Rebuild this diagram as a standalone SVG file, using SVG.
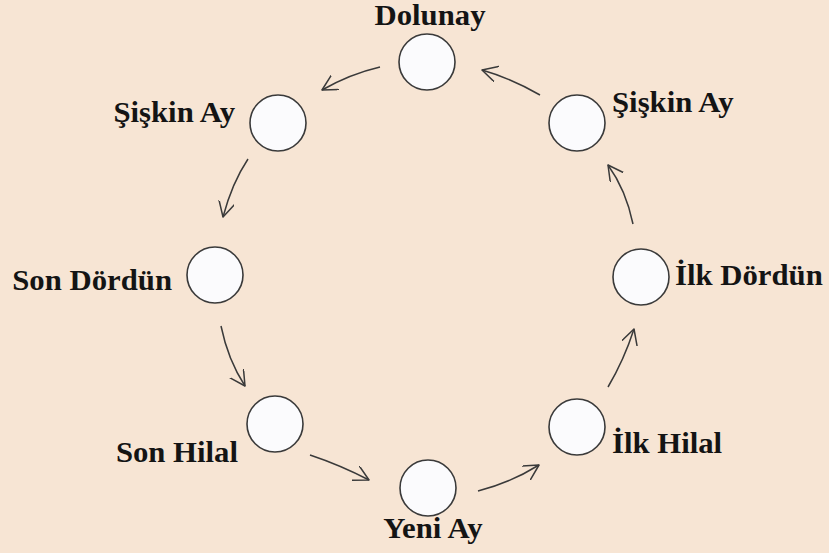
<svg xmlns="http://www.w3.org/2000/svg" width="829" height="553" viewBox="0 0 829 553">
<defs>
<marker id="arr" markerUnits="userSpaceOnUse" markerWidth="18" markerHeight="18" refX="15" refY="8" orient="auto">
<path d="M0,0 L15,8 L0,16" fill="none" stroke="#3a3a3a" stroke-width="1.5" stroke-linecap="round" stroke-linejoin="round"/>
</marker>
</defs>
<style>
.bg{fill:#F7E5D4}
.moon{fill:#FBFBFD;stroke:#3a3a3a;stroke-width:1.6}
.lbl{font-family:'Liberation Serif','Times New Roman',Tinos,Times,serif;font-weight:700;font-size:29px;fill:#141414}
.con{fill:none;stroke:#3a3a3a;stroke-width:1.5;marker-end:url(#arr)}
</style>
<rect class="bg" x="0" y="0" width="829" height="553"/>
<g id="dolunay">
<circle class="moon" cx="427" cy="62" r="28"/>
<text class="lbl" transform="translate(430,25) scale(1.06,1)" text-anchor="middle">Dolunay</text>
</g>
<g id="siskin-ay-sol">
<circle class="moon" cx="278" cy="123" r="28"/>
<text class="lbl" transform="translate(235,122) scale(1.06,1)" text-anchor="end">Şişkin Ay</text>
</g>
<g id="siskin-ay-sag">
<circle class="moon" cx="577" cy="123" r="28"/>
<text class="lbl" transform="translate(612,112) scale(1.06,1)">Şişkin Ay</text>
</g>
<g id="son-dordun">
<circle class="moon" cx="215" cy="275" r="28"/>
<text class="lbl" transform="translate(172,290) scale(1.06,1)" text-anchor="end">Son Dördün</text>
</g>
<g id="ilk-dordun">
<circle class="moon" cx="641" cy="277" r="28"/>
<text class="lbl" transform="translate(675,285) scale(1.06,1)">İlk Dördün</text>
</g>
<g id="son-hilal">
<circle class="moon" cx="275" cy="424" r="28"/>
<text class="lbl" transform="translate(238,462) scale(1.06,1)" text-anchor="end">Son Hilal</text>
</g>
<g id="ilk-hilal">
<circle class="moon" cx="577" cy="427" r="28"/>
<text class="lbl" transform="translate(612,453) scale(1.06,1)">İlk Hilal</text>
</g>
<g id="yeni-ay">
<circle class="moon" cx="428" cy="488" r="28"/>
<text class="lbl" transform="translate(433,538) scale(1.06,1)" text-anchor="middle">Yeni Ay</text>
</g>
<g id="connectors">
<path class="con" d="M380,67 Q350,74 322,90"/>
<path class="con" d="M248,159 Q232,183 223,217"/>
<path class="con" d="M221,326 Q228,360 245,386"/>
<path class="con" d="M310,455 Q340,465 369,480"/>
<path class="con" d="M478,491 Q510,483 539,465"/>
<path class="con" d="M608,387 Q624,360 634,329"/>
<path class="con" d="M633,224 Q626,190 608,165"/>
<path class="con" d="M540,95 Q510,78 482,70"/>
</g>
</svg>
